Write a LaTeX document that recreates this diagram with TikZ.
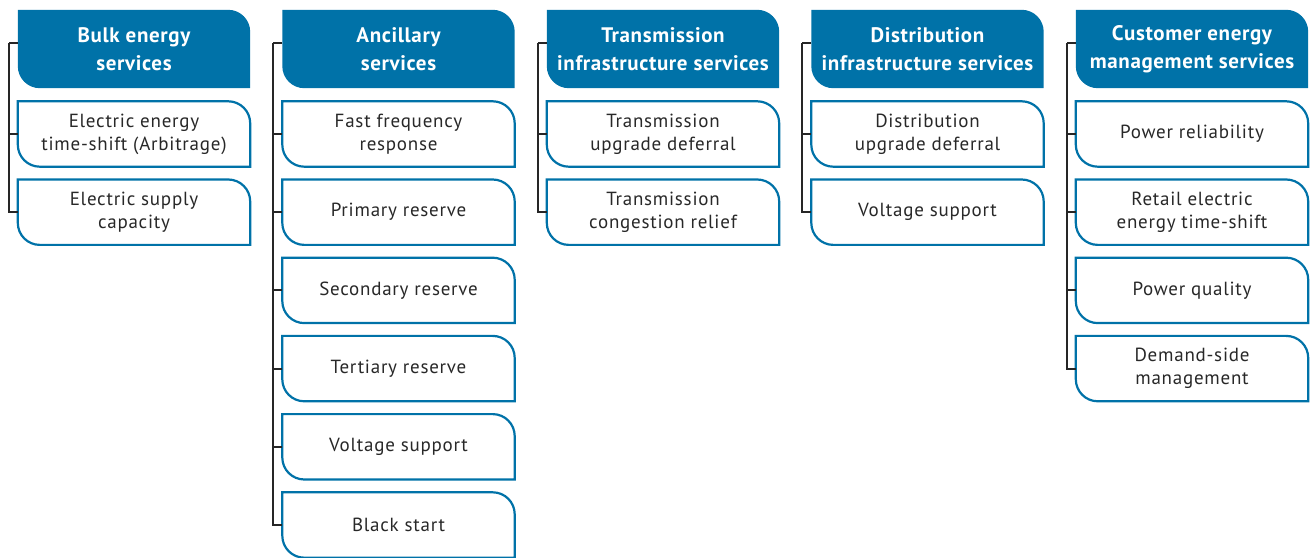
\documentclass[tikz,border=0pt]{standalone}
\usepackage{fontspec}
\setmainfont{PT Sans}
\newfontfamily\hdrfont[LetterSpace=3]{PT Sans}
\newfontfamily\leaffont[LetterSpace=4]{PT Sans}
\usetikzlibrary{calc}
\definecolor{irblue}{RGB}{0,114,168}
\definecolor{txt}{RGB}{40,40,40}
\tikzset{
  x=1pt,y=1pt,
  hdr/.style={minimum width=232pt,minimum height=78pt,inner sep=0pt,align=center,
    text=white,font=\hdrfont\fontsize{21}{28}\selectfont\bfseries},
  leaf/.style={minimum width=232pt,minimum height=65pt,inner sep=0pt,align=center,
    text=txt,font=\leaffont\fontsize{19}{23}\selectfont},
  hdrshape/.style={fill=irblue,draw=none},
  leafshape/.style={draw=irblue,line width=2.2pt,fill=white},
  tree/.style={draw=black!85,line width=2pt,line join=miter},
}
\newcommand\shp[2]{%
  \path[#2] (#1.north west) -- ($(#1.north east)+(-22,0)$)
    arc[start angle=90,end angle=0,radius=22] -- (#1.south east)
    -- ($(#1.south west)+(22,0)$) arc[start angle=270,end angle=180,radius=22] -- cycle;}
\newcommand\hnode[3]{% name, x-center, text
  \node[hdr] (#1) at (#2,508) {};
  \shp{#1}{hdrshape}
  \node[hdr] at (#1) {#3};}
\newcommand\lnode[4]{% name, x-center, index, text
  \node[leaf] (#1) at (#2,{557-134-78.2*#3}) {};
  \shp{#1}{leafshape}
  \node[leaf] at (#1) {#4};}
\begin{document}
\begin{tikzpicture}
\useasboundingbox (0,0) rectangle (1313,557);
% column 1
\hnode{h1}{134}{Bulk energy\\services}
\lnode{a1}{134}{0}{Electric energy\\time-shift (Arbitrage)}
\lnode{a2}{134}{1}{Electric supply\\capacity}
% column 2
\hnode{h2}{398.5}{Ancillary\\services}
\lnode{b1}{398.5}{0}{Fast frequency\\response}
\lnode{b2}{398.5}{1}{Primary reserve}
\lnode{b3}{398.5}{2}{Secondary reserve}
\lnode{b4}{398.5}{3}{Tertiary reserve}
\lnode{b5}{398.5}{4}{Voltage support}
\lnode{b6}{398.5}{5}{Black start}
% column 3
\hnode{h3}{663}{Transmission\\infrastructure services}
\lnode{c1}{663}{0}{Transmission\\upgrade deferral}
\lnode{c2}{663}{1}{Transmission\\congestion relief}
% column 4
\hnode{h4}{927.5}{Distribution\\infrastructure services}
\lnode{d1}{927.5}{0}{Distribution\\upgrade deferral}
\lnode{d2}{927.5}{1}{Voltage support}
% column 5
\hnode{h5}{1192}{Customer energy\\management services}
\lnode{e1}{1192}{0}{Power reliability}
\lnode{e2}{1192}{1}{Retail electric\\energy time-shift}
\lnode{e3}{1192}{2}{Power quality}
\lnode{e4}{1192}{3}{Demand-side\\management}
% trees
\foreach \h/\list in {h1/{a1,a2},h2/{b1,b2,b3,b4,b5,b6},h3/{c1,c2},h4/{d1,d2},h5/{e1,e2,e3,e4}}{
  \coordinate (t-\h) at ([xshift=-9,yshift=6]\h.west);
  \draw[tree] ([yshift=6]\h.west) -- (t-\h);
  \foreach \c in \list {\draw[tree] (t-\h) |- (\c.west);}
}
\end{tikzpicture}
\end{document}
